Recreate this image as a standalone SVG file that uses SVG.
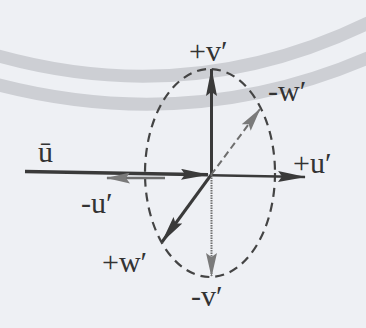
<svg xmlns="http://www.w3.org/2000/svg" width="366" height="328" viewBox="0 0 366 328">
  <style>
    .lbl { font-family: "Liberation Serif", "Times New Roman", serif; font-size: 30px; fill: #333; }
    .solid { stroke: #3a3a3a; fill: none; stroke-linecap: butt; }
    .gray { stroke: #6e6e6e; fill: none; }
    .band { stroke: #cdcfd4; stroke-width: 13; fill: none; }
  </style>
  <defs>
    <marker id="headDark" viewBox="0 0 28 11" refX="27" refY="5.5" markerWidth="28" markerHeight="11" markerUnits="userSpaceOnUse" orient="auto">
      <path d="M0,0 L28,5.5 L0,11 L4,5.5 z" fill="#3a3a3a"/>
    </marker>
    <marker id="headGray" viewBox="0 0 24 11" refX="23" refY="5.5" markerWidth="24" markerHeight="11" markerUnits="userSpaceOnUse" orient="auto">
      <path d="M0,0 L24,5.5 L0,11 L4,5.5 z" fill="#7a7a7a"/>
    </marker>
  </defs>
  <rect width="366" height="328" fill="#eef0f4"/>
  <g id="watermark">
    <path class="band" d="M -5 55 Q 190 110 370 22"/>
    <path class="band" d="M -5 84 Q 190 135 370 57"/>
  </g>
  <g id="ellipse">
    <ellipse cx="210" cy="173" rx="65" ry="104" fill="none" stroke="#444" stroke-width="2.2" stroke-dasharray="9 6"/>
  </g>
  <g id="connectors">
    <line id="ubar" class="solid" x1="25" y1="171.5" x2="208" y2="174.8" stroke-width="3.5" marker-end="url(#headDark)"/>
    <line id="plus-u" class="solid" x1="211" y1="175.3" x2="305" y2="177" stroke-width="2.5" marker-end="url(#headDark)"/>
    <line id="plus-v" class="solid" x1="211.5" y1="175" x2="211.5" y2="69" stroke-width="3" marker-end="url(#headDark)"/>
    <line id="plus-w" class="solid" x1="211" y1="175" x2="162" y2="242" stroke-width="3" marker-end="url(#headDark)"/>
    <line id="minus-v" class="gray" x1="211.5" y1="175" x2="211.5" y2="276" stroke-width="2" stroke-dasharray="1.5 1" marker-end="url(#headGray)"/>
    <line id="minus-w" class="gray" x1="211" y1="175" x2="260" y2="109" stroke-width="2" stroke-dasharray="7 4" marker-end="url(#headGray)"/>
    <line id="minus-u" class="gray" x1="165" y1="178" x2="107" y2="178" stroke="#9a9a9a" stroke-width="2.5" marker-end="url(#headGray)"/>
  </g>
  <g id="labels">
    <text id="t-plus-v" class="lbl" x="189" y="61">+v′</text>
    <text id="t-minus-w" class="lbl" x="268" y="101">-w′</text>
    <text id="t-ubar" class="lbl" x="38" y="162">ū</text>
    <text id="t-plus-u" class="lbl" x="293" y="173">+u′</text>
    <text id="t-minus-u" class="lbl" x="81" y="213">-u′</text>
    <text id="t-plus-w" class="lbl" x="102" y="272">+w′</text>
    <text id="t-minus-v" class="lbl" x="191" y="306">-v′</text>
  </g>
</svg>
